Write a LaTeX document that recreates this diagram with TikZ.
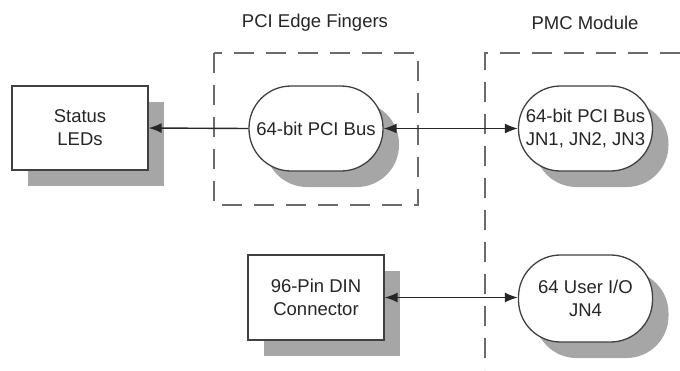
\documentclass[tikz,border=0pt]{standalone}
\usepackage{fontspec}
\setmainfont{Liberation Sans}
\usetikzlibrary{arrows.meta,shadows}
\begin{document}
\begin{tikzpicture}[x=1pt,y=-1pt,
  txt/.style={font=\fontsize{18.5}{23}\selectfont, text=black!85},
  boxnode/.style={txt, draw=black!75, line width=1.3pt, fill=white,
    minimum width=136pt, minimum height=84pt, inner sep=0pt, align=center,
    drop shadow={shadow xshift=16pt, shadow yshift=-16pt, fill=black!35, opacity=1}},
  busnode/.style={boxnode, minimum width=134pt, minimum height=85pt, rounded corners=42pt},
  region/.style={draw=black!58, line width=1.8pt, dash pattern=on 20pt off 12pt},
  link/.style={draw=black!85, line width=1.4pt},
  tip/.style={-{Latex[length=13pt,width=10pt]}},
  both/.style={{Latex[length=13pt,width=10pt]}-{Latex[length=13pt,width=10pt]}}
]
\useasboundingbox (0,0) rectangle (680,370);
% regions
\draw[region] (214,53) rectangle (418,205);
\draw[region] (680,53) -- (485,53) -- (485,370);
\node[txt] (t1) at (315,23) {PCI Edge Fingers};
\node[txt] (t2) at (585,23) {PMC Module};
% nodes
\node[boxnode] (led) at (80,128) {Status\\LEDs};
\node[busnode] (pci) at (316,128.5) {64-bit PCI Bus};
\node[busnode] (jn) at (585.5,128.5) {64-bit PCI Bus\\JN1, JN2, JN3};
\node[boxnode, minimum height=85pt] (din) at (316,297.5) {96-Pin DIN\\Connector};
\node[busnode, minimum height=87pt] (uio) at (585.5,298.5) {64 User I/O\\JN4};
% connectors
\draw[link,tip] (pci.west) -- (led.east);
\draw[link,both] (pci.east) -- (jn.west);
\draw[link,both] (din.east) -- (uio.west |- din.east);
\end{tikzpicture}
\end{document}
